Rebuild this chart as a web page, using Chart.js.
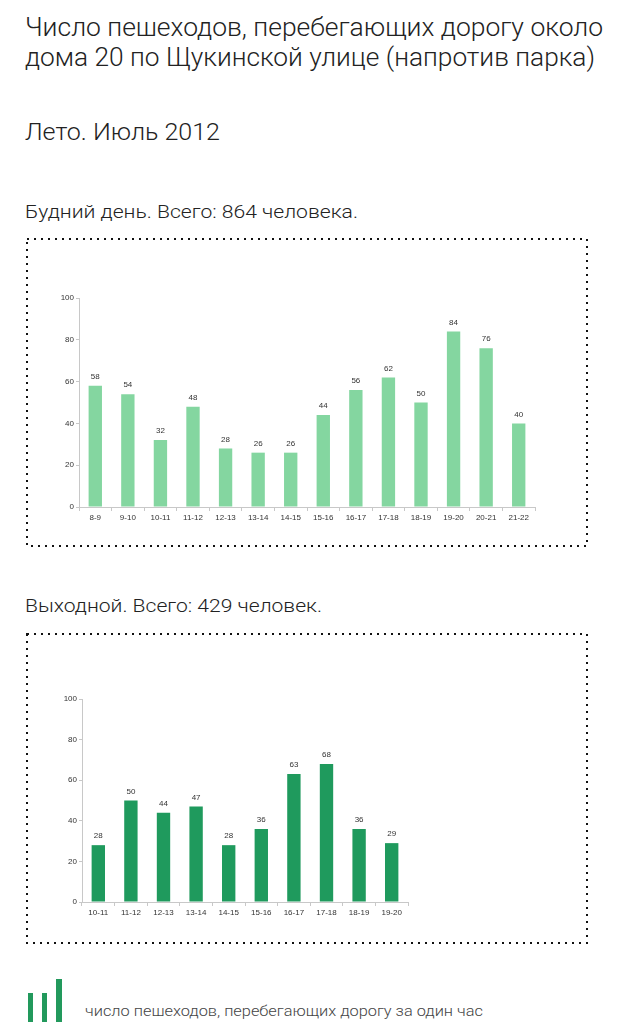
<!DOCTYPE html>
<html><head><meta charset="utf-8">
<script src="https://cdn.jsdelivr.net/npm/chart.js@4/dist/chart.umd.min.js"></script>
<style>
html,body{margin:0;padding:0;background:#fff;width:639px;height:1024px;overflow:hidden;}
.t{position:absolute;left:25px;white-space:nowrap;color:#222;font-family:Roboto,"Noto Sans",sans-serif;font-weight:300;transform-origin:0 0;}
canvas{position:absolute;}
svg{position:absolute;left:0;top:0;}
</style></head><body>
<div class="t" id="t1" style="top:12px;font-size:26px;">Число пешеходов, перебегающих дорогу около</div>
<div class="t" id="t2" style="top:42px;font-size:26px;">дома 20 по Щукинской улице (напротив парка)</div>
<div class="t" id="t3" style="top:118px;font-size:24px;">Лето. Июль 2012</div>
<div class="t" id="t4" style="top:201px;font-size:18px;">Будний день. Всего: 864 человека.</div>
<div class="t" id="t5" style="top:595px;font-size:18px;">Выходной. Всего: 429 человек.</div>
<div class="t" id="t6" style="left:85px;top:1002px;font-size:15px;color:#444;">число пешеходов, перебегающих дорогу за один час</div>
<svg width="639" height="1024">
<rect x="27" y="239" width="560" height="307" fill="none" stroke="#111" stroke-width="2" stroke-dasharray="2 5"/>
<rect x="27" y="634" width="560" height="309" fill="none" stroke="#111" stroke-width="2" stroke-dasharray="2 5"/>
<rect x="28" y="993" width="5" height="29" fill="#22995c"/>
<rect x="42" y="993" width="5" height="29" fill="#22995c"/>
<rect x="56" y="979" width="6" height="43" fill="#22995c"/>
</svg>
<canvas id="c1" style="left:40px;top:285px;width:510px;height:250px"></canvas>
<canvas id="c2" style="left:40px;top:686px;width:380px;height:240px"></canvas>
<script>
const weekdayHours = ["8-9","9-10","10-11","11-12","12-13","13-14","14-15","15-16","16-17","17-18","18-19","19-20","20-21","21-22"];
const weekdayCounts = [58,54,32,48,28,26,26,44,56,62,50,84,76,40];
const weekendHours = ["10-11","11-12","12-13","13-14","14-15","15-16","16-17","17-18","18-19","19-20"];
const weekendCounts = [28,50,44,47,28,36,63,68,36,29];
const yTicks = [0,20,40,60,80,100];

// fit titles to reference widths
const targets = {t1:578,t2:570,t3:195,t4:333,t5:297,t6:398};
for (const id in targets){
  const el=document.getElementById(id);
  const w=el.getBoundingClientRect().width;
  el.style.transform='scaleX('+(targets[id]/w)+')';
}

const valueLabels = {
  id:'valueLabels',
  afterDatasetsDraw(chart){
    const ctx=chart.ctx;
    ctx.save();
    ctx.font='8px "Liberation Sans", Arial, sans-serif';
    ctx.fillStyle='#333';
    ctx.textAlign='center';
    ctx.textBaseline='bottom';
    chart.getDatasetMeta(0).data.forEach((bar,i)=>{
      ctx.fillText(chart.data.datasets[0].data[i], bar.x, bar.y-5);
    });
    ctx.restore();
  }
};

function make(id, labels, data, color, yw, xh, padR){
  new Chart(document.getElementById(id), {
    type:'bar',
    data:{labels, datasets:[{data, backgroundColor:color, barPercentage:0.41, categoryPercentage:1}]},
    options:{
      responsive:false, animation:false,
      layout:{padding:{top:13,right:padR,left:0,bottom:0}},
      plugins:{legend:{display:false},tooltip:{enabled:false}},
      scales:{
        x:{
          grid:{drawOnChartArea:false,tickLength:4,color:'#c8c8c8'},
          border:{color:'#c8c8c8'},
          ticks:{font:{family:'"Liberation Sans", Arial',size:8},color:'#333',padding:2,maxRotation:0,autoSkip:false},
          afterFit:s=>{s.height=xh;}
        },
        y:{
          min:0,max:100,
          grid:{drawOnChartArea:false,tickLength:3,color:'#c8c8c8'},
          border:{color:'#c8c8c8'},
          afterBuildTicks:s=>{s.ticks=yTicks.map(v=>({value:v}));},
          ticks:{font:{family:'"Liberation Sans", Arial',size:8},color:'#333',padding:2},
          afterFit:s=>{s.width=yw;}
        }
      }
    },
    plugins:[valueLabels]
  });
}
const c1=document.getElementById('c1'); c1.width=510; c1.height=250;
const c2=document.getElementById('c2'); c2.width=380; c2.height=240;
make('c1', weekdayHours, weekdayCounts, '#84d6a0', 39, 28, 15);
make('c2', weekendHours, weekendCounts, '#1f9a5d', 42, 24, 12);
</script>
</body></html>
